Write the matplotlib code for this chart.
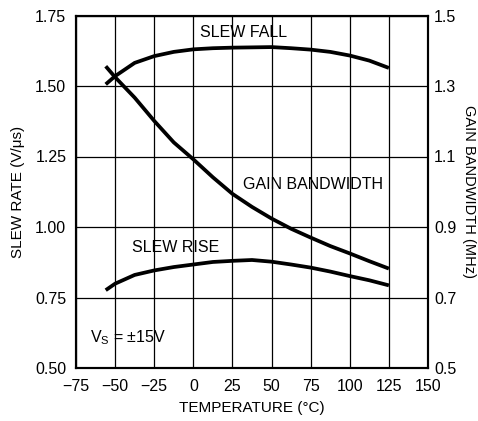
import matplotlib
matplotlib.use("Agg")
import matplotlib.pyplot as plt

plt.rcParams['font.family'] = ['Liberation Sans', 'DejaVu Sans']

temp = [-56, -50, -37.5, -25, -12.5, 0, 12.5, 25, 37.5, 50, 62.5, 75, 87.5, 100, 112.5, 125]
slew_fall = [1.506, 1.535, 1.582, 1.606, 1.621, 1.630, 1.634, 1.636, 1.637, 1.638, 1.634,
             1.629, 1.621, 1.608, 1.590, 1.564]
slew_rise = [0.776, 0.799, 0.830, 0.846, 0.858, 0.867, 0.876, 0.880, 0.883, 0.877, 0.867,
             0.856, 0.842, 0.826, 0.811, 0.793]
gain_bw = [1.356, 1.325, 1.267, 1.201, 1.140, 1.092, 1.041, 0.994, 0.957, 0.924, 0.895,
           0.870, 0.846, 0.825, 0.803, 0.782]

x_ticks = [-75, -50, -25, 0, 25, 50, 75, 100, 125, 150]
x_labels = ['\u221275', '\u221250', '\u221225', '0', '25', '50', '75', '100', '125', '150']
left_ticks = [0.50, 0.75, 1.00, 1.25, 1.50, 1.75]
right_ticks = [0.5, 0.7, 0.9, 1.1, 1.3, 1.5]

fig = plt.figure(figsize=(4.78, 4.21), dpi=100)
ax = fig.add_axes([76/478, 1 - 368/421, (428 - 76)/478, (368 - 15.5)/421])
ax2 = ax.twinx()

ax.set_xlim(-75, 150)
ax.set_ylim(0.5, 1.75)
ax2.set_ylim(0.5, 1.5)

ax.set_xticks(x_ticks)
ax.set_xticklabels(x_labels)
ax.set_yticks(left_ticks)
ax.set_yticklabels([f'{v:.2f}' for v in left_ticks])
ax2.set_yticks(right_ticks)
ax2.set_yticklabels([f'{v:.1f}' for v in right_ticks])

ax.grid(True, color='black', linewidth=0.9)
ax.set_axisbelow(True)

lw = 2.7
ax.plot(temp, slew_fall, color='black', linewidth=lw, solid_capstyle='butt')
ax.plot(temp, slew_rise, color='black', linewidth=lw, solid_capstyle='butt')
ax2.plot(temp, gain_bw, color='black', linewidth=lw, solid_capstyle='butt')

for a in (ax, ax2):
    for s in a.spines.values():
        s.set_linewidth(1.5)
    a.tick_params(length=0, labelsize=11.5)
ax.tick_params(axis='x', pad=8)
ax.tick_params(axis='y', pad=7)
ax2.tick_params(axis='y', pad=4.5)

ax.set_xlabel('TEMPERATURE (\u00b0C)', fontsize=11, labelpad=5)
ax.set_ylabel('SLEW RATE (V/\u03bcs)', fontsize=11, labelpad=7)
ax2.set_ylabel('GAIN BANDWIDTH (MHz)', fontsize=10.5, rotation=-90, labelpad=14)

fs = 11.5
ax.text(4.3, 1.688, 'SLEW FALL', fontsize=fs, ha='left', va='center')
ax.text(31.6, 1.151, 'GAIN BANDWIDTH', fontsize=fs, ha='left', va='center')
ax.text(-39.4, 0.929, 'SLEW RISE', fontsize=fs, ha='left', va='center')
ax.text(-66, 0.606, 'V$_\\mathregular{S}$ = \u00b115V', fontsize=fs, ha='left', va='center')

fig.savefig('out.png', dpi=100)
